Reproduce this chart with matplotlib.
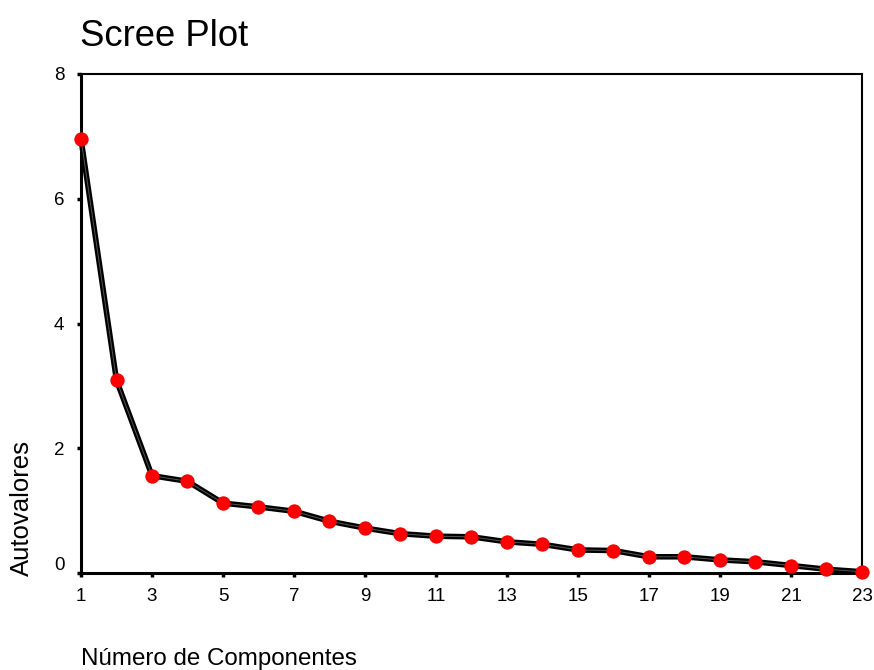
import matplotlib
matplotlib.use('Agg')
import matplotlib.pyplot as plt
import matplotlib.transforms as mtransforms

plt.rcParams['font.family'] = ['Liberation Sans', 'DejaVu Sans']

# eigenvalues
componentes = list(range(1, 24))
autovalores = [6.96, 3.09, 1.56, 1.47, 1.12, 1.06, 0.99, 0.83, 0.72, 0.63,
               0.59, 0.58, 0.50, 0.46, 0.37, 0.36, 0.26, 0.26, 0.21, 0.18,
               0.12, 0.06, 0.02]
xticks = list(range(1, 24, 2))
yticks = [0, 2, 4, 6, 8]

W, H = 874, 670
fig = plt.figure(figsize=(W / 100, H / 100), dpi=100)
ax = fig.add_axes([81 / W, 1 - 573 / H, (862 - 81) / W, (573 - 74) / H])

ax.plot(componentes, autovalores, color='black', lw=4, zorder=2,
        solid_joinstyle='miter', clip_on=False)
ax.plot(componentes, autovalores, color='#555555', lw=0.7, zorder=3,
        clip_on=False)
ax.plot(componentes, autovalores, ls='none', marker='o', ms=9.5,
        mfc='#ff0000', mec='#ee0000', mew=0.8, zorder=4, clip_on=False)

ax.set_xlim(1, 23)
ax.set_ylim(0, 8)
ax.set_xticks(xticks)
ax.set_yticks(yticks)
ax.tick_params(direction='out', length=3, width=2.5, labelsize=13.5)
ax.tick_params(axis='x', pad=8)
ax.tick_params(axis='y', pad=9)

for side in ['left', 'bottom']:
    ax.spines[side].set_linewidth(2.2)
for side in ['top', 'right']:
    ax.spines[side].set_linewidth(1.5)

# the 0 label sits a little above its tick
lab0 = ax.get_yticklabels()[0]
lab0.set_transform(lab0.get_transform() +
                   mtransforms.ScaledTranslation(0, 9 / 100, fig.dpi_scale_trans))

fig.text(80 / W, 1 - 46 / H, 'Scree Plot', fontsize=26.3, ha='left',
         va='baseline')
fig.text(81 / W, 1 - 665 / H, 'Número de Componentes', fontsize=17.4,
         ha='left', va='baseline')
fig.text(22 / W, 1 - 508 / H, 'Autovalores', fontsize=18.5, rotation=90,
         ha='center', va='center')

fig.savefig('out.png', dpi=100)
